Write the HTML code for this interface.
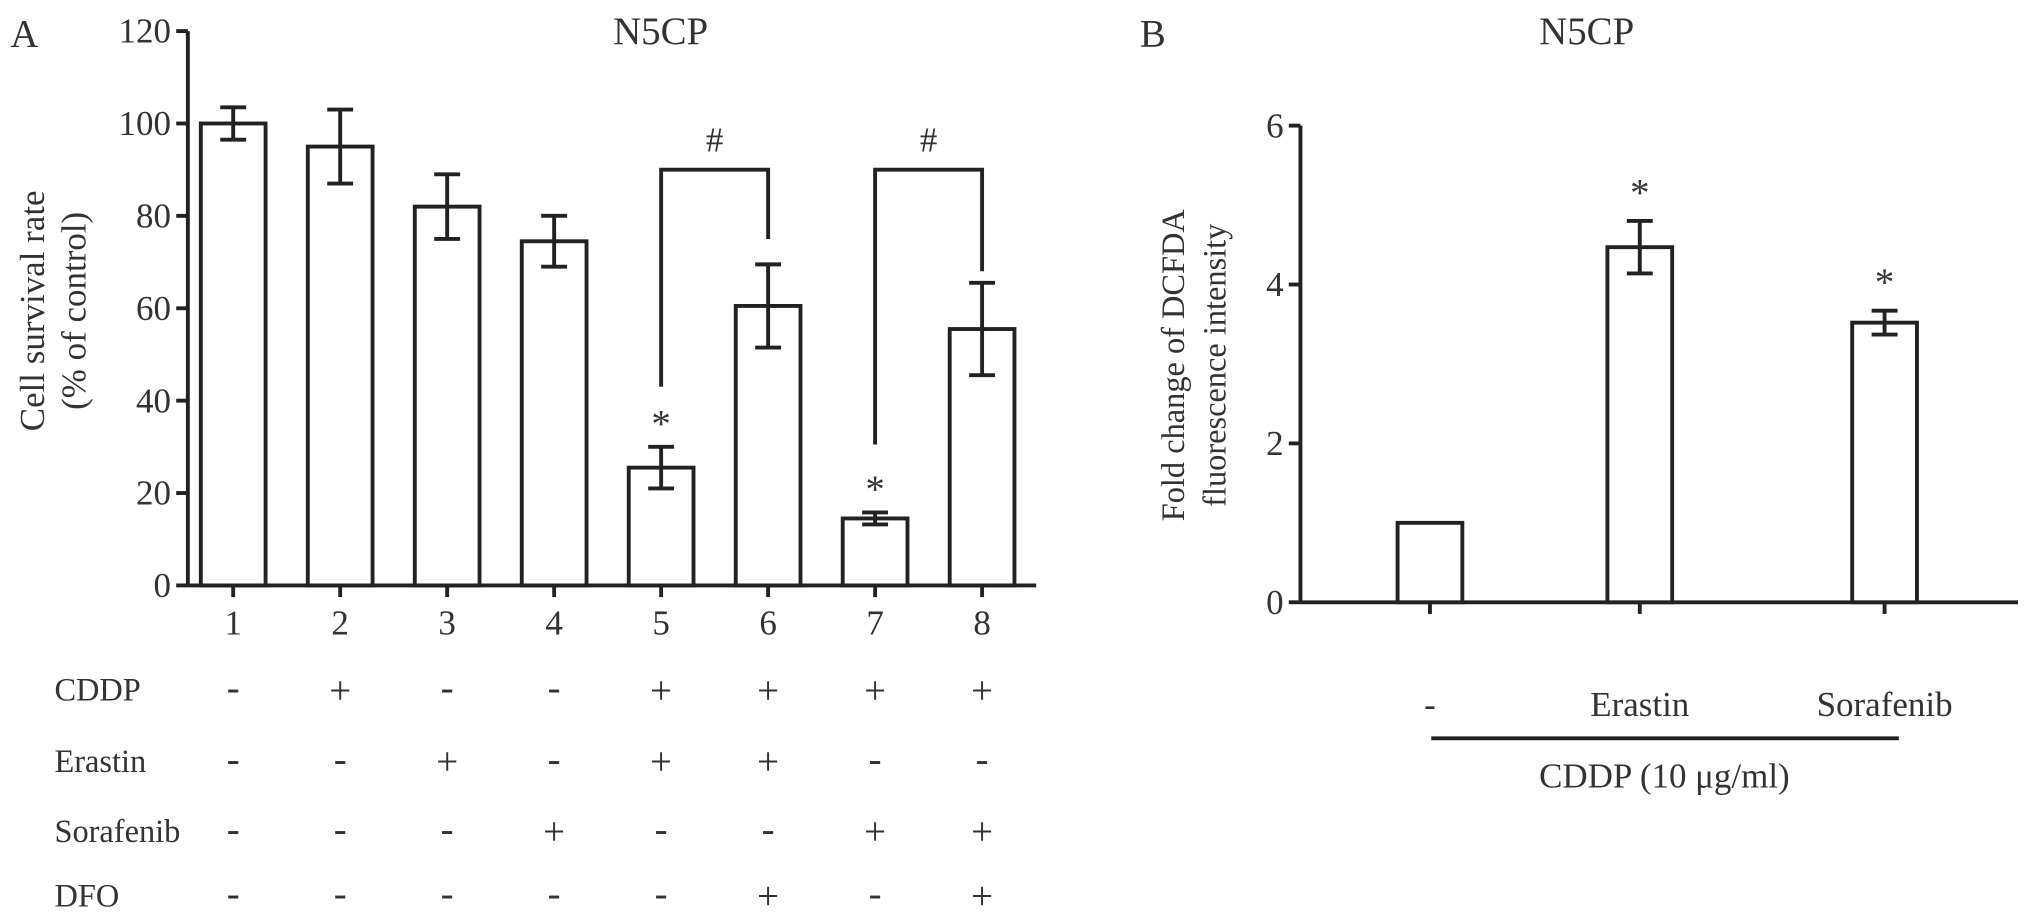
<!DOCTYPE html>
<html><head><meta charset="utf-8"><style>
html,body{margin:0;padding:0;background:#fff}
svg{display:block}
text{font-family:"Liberation Serif",serif;fill:#333}
</style></head><body>
<svg id="c" width="2031" height="924" viewBox="0 0 1568 713.4" xmlns="http://www.w3.org/2000/svg">
<text x="8" y="36" font-size="30">A</text>
<text x="510" y="34" font-size="30" text-anchor="middle">N5CP</text>
<text x="880" y="36" font-size="30">B</text>
<text x="1225" y="34" font-size="30" text-anchor="middle">N5CP</text>
<text transform="translate(34,240) rotate(-90)" font-size="27" text-anchor="middle">Cell survival rate</text>
<text transform="translate(66,240) rotate(-90)" font-size="27" text-anchor="middle">(% of control)</text>
<text transform="translate(914,282) rotate(-90)" font-size="25" text-anchor="middle">Fold change of DCFDA</text>
<text transform="translate(946,282) rotate(-90)" font-size="25" text-anchor="middle">fluorescence intensity</text>
<g id="ga"></g><g id="gb"></g>
</svg>
<script>
const catsA=["1","2","3","4","5","6","7","8"];
const valsA=[100,95,82,74.5,25.5,60.5,14.5,55.5];
const errA=[3.5,8,7,5.5,4.5,9,1.3,10];
const ticksA=[0,20,40,60,80,100,120];
const starsA=[4,6];
const rowNames=["CDDP","Erastin","Sorafenib","DFO"];
const rowSigns=[["-","+","-","-","+","+","+","+"],["-","-","+","-","+","+","-","-"],["-","-","-","+","-","-","+","+"],["-","-","-","-","-","+","-","+"]];
const bracketsA=[[4,5,90,43,75],[6,7,90,30.5,68]];
const catsB=["-","Erastin","Sorafenib"];
const valsB=[1,4.47,3.52];
const errB=[0,0.33,0.15];
const ticksB=[0,2,4,6];
const starsB=[1,2];

const NS="http://www.w3.org/2000/svg";
function mk(p,tag,attrs,txt){const e=document.createElementNS(NS,tag);for(const k in attrs)e.setAttribute(k,attrs[k]);if(txt!==undefined)e.textContent=txt;p.appendChild(e);return e;}
const ST={stroke:"#222","stroke-width":3,fill:"none"};

// Panel A
const ga=document.getElementById('ga');
const yA=v=>452-v*(428/120);
const xA=i=>180+i*82.6;
let e=mk(ga,'line',{x1:145,y1:yA(120),x2:145,y2:452,...ST});

e=mk(ga,'line',{x1:145,y1:452,x2:800,y2:452,...ST});

ticksA.forEach(t=>{
 e=mk(ga,'line',{x1:136,y1:yA(t),x2:145,y2:yA(t),...ST});
 
 e=mk(ga,'text',{x:132,y:yA(t)+9,'font-size':27,'text-anchor':'end'},String(t));
 
});
catsA.forEach((c,i)=>{
 const x=xA(i),y=yA(valsA[i]);
 e=mk(ga,'rect',{x:x-25,y:y,width:50,height:452-y,fill:'#fff',stroke:'#222','stroke-width':3});
 
 const y1=yA(valsA[i]+errA[i]),y2=yA(valsA[i]-errA[i]);
 e=mk(ga,'path',{d:`M${x},${y1}V${y2}M${x-10},${y1}H${x+10}M${x-10},${y2}H${x+10}`,...ST});
 
 e=mk(ga,'line',{x1:x,y1:452,x2:x,y2:461,...ST});
 
 e=mk(ga,'text',{x:x,y:490,'font-size':27,'text-anchor':'middle'},c);
 
});
starsA.forEach(i=>{
 e=mk(ga,'text',{x:xA(i),y:yA(valsA[i]+errA[i])-8,'font-size':30,'text-anchor':'middle'},'*');
 
});
bracketsA.forEach(b=>{
 const x1=xA(b[0]),x2=xA(b[1]);
 e=mk(ga,'path',{d:`M${x1},${yA(b[3])}V${yA(b[2])}H${x2}V${yA(b[4])}`,...ST});
 
 e=mk(ga,'text',{x:(x1+x2)/2,y:yA(b[2])-14,'font-size':27,'text-anchor':'middle'},'#');
 
});
const rowY=[541,596,650,700];
rowNames.forEach((n,r)=>{
 e=mk(ga,'text',{x:42,y:rowY[r],'font-size':25},n);
 
 rowSigns[r].forEach((s,i)=>{
  e=mk(ga,'text',{x:xA(i),y:rowY[r]+(s==='-'?0:2),'font-size':30,'text-anchor':'middle'},s);
  
 });
});

// Panel B
const gb=document.getElementById('gb');
const yB=v=>465-v*(368/6);
const xB=i=>[1104,1266,1455][i];
e=mk(gb,'line',{x1:1004,y1:yB(6),x2:1004,y2:465,...ST});

e=mk(gb,'line',{x1:1004,y1:465,x2:1558,y2:465,...ST});

ticksB.forEach(t=>{
 e=mk(gb,'line',{x1:995,y1:yB(t),x2:1004,y2:yB(t),...ST});
 
 e=mk(gb,'text',{x:991,y:yB(t)+9,'font-size':27,'text-anchor':'end'},String(t));
 
});
catsB.forEach((c,i)=>{
 const x=xB(i),y=yB(valsB[i]);
 e=mk(gb,'rect',{x:x-25,y:y,width:50,height:465-y,fill:'#fff',stroke:'#222','stroke-width':3});
 
 if(errB[i]>0){
  const y1=yB(valsB[i]+errB[i]),y2=yB(valsB[i]-errB[i]);
  e=mk(gb,'path',{d:`M${x},${y1}V${y2}M${x-10},${y1}H${x+10}M${x-10},${y2}H${x+10}`,...ST});
  
 }
 e=mk(gb,'line',{x1:x,y1:465,x2:x,y2:474,...ST});
 
 e=mk(gb,'text',{x:x,y:553,'font-size':27,'text-anchor':'middle'},c);
 
});
starsB.forEach(i=>{
 e=mk(gb,'text',{x:xB(i),y:yB(valsB[i]+errB[i])-12,'font-size':30,'text-anchor':'middle'},'*');
 
});
e=mk(gb,'line',{x1:1105,y1:570,x2:1466,y2:570,...ST});

e=mk(gb,'text',{x:1285,y:608,'font-size':27,'text-anchor':'middle'},'CDDP (10 μg/ml)');

</script>
</body></html>
